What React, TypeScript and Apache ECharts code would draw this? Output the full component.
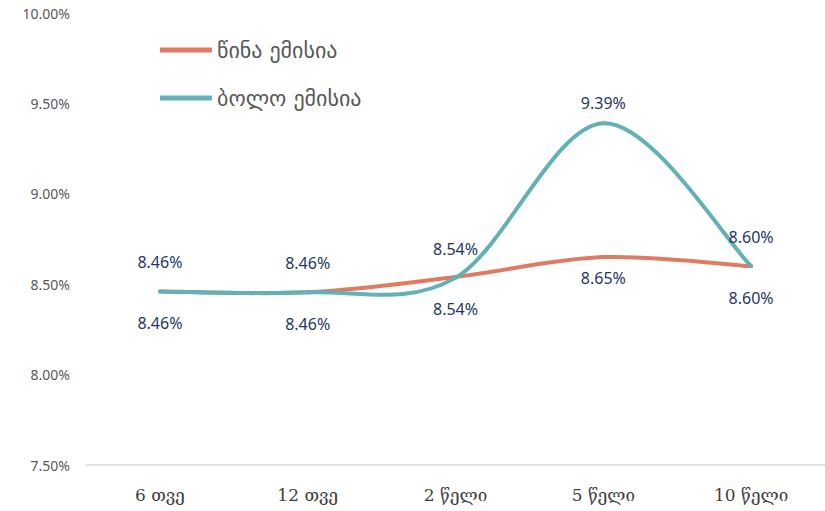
import React, { useEffect, useRef } from "react";
import * as echarts from "echarts";

const categories = ["6 თვე", "12 თვე", "2 წელი", "5 წელი", "10 წელი"];
const previousIssue = [8.46, 8.455, 8.54, 8.65, 8.6];
const lastIssue = [8.46, 8.455, 8.535, 9.39, 8.6];
const previousLabels = ["8.46%", "8.46%", "8.54%", "8.65%", "8.60%"];
const lastLabels = ["8.46%", "8.46%", "8.54%", "9.39%", "8.60%"];
const seriesNames = ["წინა ემისია", "ბოლო ემისია"];

const labelGapAbove = [21, 21, 21, 12, 21];
const labelGapBelow = [24, 24, 24, 13, 24];

const ORANGE = "#E07B61";
const TEAL = "#62B1B6";

function curveSeries(name: string, values: number[], color: string, z: number) {
  const n = values.length;
  return {
    name,
    type: "custom",
    z,
    clip: false,
    silent: true,
    encode: { x: 0, y: 1 },
    data: values.map((v, i) => [i, v]),
    renderItem: (params: any, api: any) => {
      const i = params.dataIndex;
      if (i >= n - 1) return null;
      const pt = (k: number) => {
        const j = Math.max(0, Math.min(n - 1, k));
        return api.coord([j, values[j]]);
      };
      const p0 = pt(i - 1);
      const p1 = pt(i);
      const p2 = pt(i + 1);
      const p3 = pt(i + 2);
      const t = 1 / 6;
      return {
        type: "bezierCurve",
        shape: {
          x1: p1[0],
          y1: p1[1],
          x2: p2[0],
          y2: p2[1],
          cpx1: p1[0] + (p2[0] - p0[0]) * t,
          cpy1: p1[1] + (p2[1] - p0[1]) * t,
          cpx2: p2[0] - (p3[0] - p1[0]) * t,
          cpy2: p2[1] - (p3[1] - p1[1]) * t,
        },
        style: { stroke: color, lineWidth: 4, fill: null, lineCap: "round" },
      };
    },
  };
}

export default function App() {
  const ref = useRef<HTMLDivElement>(null);
  useEffect(() => {
    if (!ref.current) return;
    const chart = echarts.init(ref.current, null, { renderer: "svg" });
    const labelStyle = { color: "#1F3768", fontSize: 16, fontFamily: "Noto Sans" };
    const labelLine = (name: string, values: number[], labels: string[], gaps: number[], pos: string, color: string) => ({
      name,
      type: "line",
      symbol: "circle",
      symbolSize: 0,
      showSymbol: true,
      z: 5,
      lineStyle: { color, width: 0, opacity: 0 },
      itemStyle: { color },
      data: values.map((v, i) => ({
        value: v,
        label: {
          show: true,
          position: pos,
          distance: gaps[i],
          formatter: labels[i],
          ...labelStyle,
        },
      })),
    });
    chart.setOption({
      animation: false,
      backgroundColor: "#ffffff",
      grid: { left: 86, right: 0, top: 13, bottom: 46 },
      legend: {
        orient: "vertical",
        left: 160,
        top: 39,
        padding: 0,
        itemGap: 26,
        itemWidth: 52,
        itemHeight: 22,
        icon: "path://M0,0 L52,0 L52,5 L0,5 Z",
        textStyle: { color: "#595959", fontSize: 22, lineHeight: 22, fontFamily: "DejaVu Sans" },
        data: seriesNames,
      },
      xAxis: {
        type: "category",
        data: categories,
        axisLine: { lineStyle: { color: "#D9D9D9", width: 1.5 } },
        axisTick: { show: false },
        axisLabel: { color: "#404040", fontSize: 17, fontFamily: "DejaVu Serif", margin: 21 },
      },
      yAxis: {
        type: "value",
        min: 7.5,
        max: 10,
        interval: 0.5,
        splitLine: { show: false },
        axisLine: { show: false },
        axisTick: { show: false },
        axisLabel: {
          color: "#595959",
          fontSize: 14,
          fontFamily: "Noto Sans",
          margin: 16,
          formatter: (v: number) => v.toFixed(2) + "%",
        },
      },
      series: [
        curveSeries("curve-previous", previousIssue, ORANGE, 2),
        curveSeries("curve-last", lastIssue, TEAL, 3),
        labelLine(seriesNames[0], previousIssue, previousLabels, labelGapBelow, "bottom", ORANGE),
        labelLine(seriesNames[1], lastIssue, lastLabels, labelGapAbove, "top", TEAL),
      ],
    });
    return () => chart.dispose();
  }, []);
  return (
    <div
      ref={ref}
      style={{ position: "fixed", left: 0, top: 0, width: 825, height: 511 }}
    />
  );
}
